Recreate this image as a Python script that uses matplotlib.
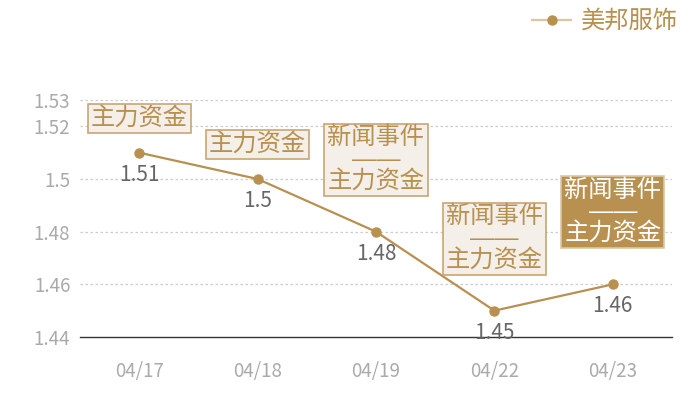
import matplotlib.pyplot as plt
from matplotlib.lines import Line2D

plt.rcParams['font.family'] = ['Noto Sans CJK SC', 'DejaVu Sans']

# data
dates = ['04/17', '04/18', '04/19', '04/22', '04/23']
prices = [1.51, 1.5, 1.48, 1.45, 1.46]
price_text = ['1.51', '1.5', '1.48', '1.45', '1.46']
events = ['主力资金', '主力资金', '新闻事件\n——\n主力资金', '新闻事件\n——\n主力资金', '新闻事件\n——\n主力资金']
yticks = [1.44, 1.46, 1.48, 1.5, 1.52, 1.53]
series_name = '美邦服饰'

gold = '#b8904f'
light_gold = '#dcc7a3'
box_face = '#f4efe9'
box_edge = '#c9a571'

fig = plt.figure(figsize=(7, 4), dpi=100)
ax = fig.add_axes([80/700, 63/400, 592/700, 237/400])

x = list(range(len(dates)))
ax.plot(x, prices, color=gold, lw=1.6, marker='o', ms=6.5, zorder=3)

ax.set_xlim(-0.5, len(dates) - 0.5)
ax.set_ylim(1.44, 1.53)
ax.set_yticks(yticks)
ax.set_yticklabels([f'{v:g}' for v in yticks])
ax.set_xticks(x)
ax.set_xticklabels(dates)
ax.tick_params(axis='both', length=0, labelsize=13.5, labelcolor='#aaaaaa')
ax.tick_params(axis='x', pad=17)
ax.tick_params(axis='y', pad=7)

for v in yticks[1:]:
    ax.axhline(v, color='#cccccc', lw=0.9, ls=(0, (2, 2)), zorder=1)

for s in ['left', 'right', 'top']:
    ax.spines[s].set_visible(False)
ax.spines['bottom'].set_color('#333333')
ax.spines['bottom'].set_linewidth(1.0)

for i, (p, t, ev) in enumerate(zip(prices, price_text, events)):
    ax.annotate(t, (i, p), xytext=(0, -22), textcoords='offset pixels',
                ha='center', va='center', fontsize=15, color='#666666')
    multi = '\n' in ev
    last = i == len(events) - 1
    # Liberation Sans first so the dash is a full-width, joined rule
    ax.annotate(ev, (i, p), xytext=(0, 72 if multi else 34.5), textcoords='offset pixels',
                ha='center', va='center', fontsize=17.5, linespacing=0.95,
                family=['Liberation Sans', 'Noto Sans CJK SC'],
                color='white' if last else gold,
                bbox=dict(boxstyle='square,pad=0.13',
                          fc=gold if last else box_face,
                          ec=light_gold if last else box_edge, lw=1.2),
                zorder=4)

handle = Line2D([], [], color=light_gold, lw=1.6, marker='o', ms=6.5,
                markerfacecolor=gold, markeredgecolor=gold)
fig.legend([handle], [series_name], loc='upper right', bbox_to_anchor=(0.986, 1.01),
           frameon=False, fontsize=17.5, labelcolor=gold, handlelength=1.6,
           handletextpad=0.4, borderaxespad=0.1)

fig.savefig('out.png', dpi=100)
